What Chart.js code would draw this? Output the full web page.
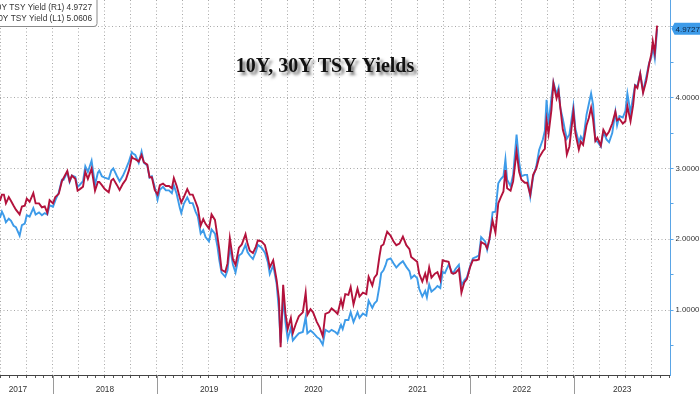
<!DOCTYPE html>
<html>
<head>
<meta charset="utf-8">
<title>10Y, 30Y TSY Yields</title>
<script src="https://cdn.jsdelivr.net/npm/chart.js@4.4.0/dist/chart.umd.min.js"></script>
<style>
  html, body { margin: 0; padding: 0; background: #fff; overflow: hidden; }
  canvas { display: block; }
</style>
</head>
<body>
<canvas id="grafico" width="700" height="394"></canvas>
<script>
/* ==========================================================================
   1. DATOS
   ========================================================================== */
const titulo = '10Y, 30Y TSY Yields';

const fechas = [
  '2017-06-30','2017-07-07','2017-07-14','2017-07-21','2017-07-31','2017-08-08','2017-08-17','2017-08-25','2017-09-07','2017-09-15','2017-09-25','2017-10-02','2017-10-12','2017-10-25','2017-11-02','2017-11-14','2017-11-24','2017-12-04','2017-12-13','2017-12-21',
  '2018-01-02','2018-01-10','2018-01-22','2018-02-02','2018-02-08','2018-02-21','2018-03-01','2018-03-09','2018-03-21','2018-03-29','2018-04-06','2018-04-17','2018-04-25','2018-05-04','2018-05-17','2018-05-29','2018-06-08','2018-06-13','2018-06-22','2018-07-02','2018-07-16','2018-07-25','2018-08-01','2018-08-14','2018-08-23','2018-09-04','2018-09-14','2018-09-25','2018-10-05','2018-10-09','2018-10-17','2018-10-29','2018-11-08','2018-11-16','2018-11-28','2018-12-06','2018-12-14','2018-12-24',
  '2019-01-03','2019-01-11','2019-01-22','2019-02-01','2019-02-12','2019-02-22','2019-03-01','2019-03-11','2019-03-22','2019-03-27','2019-04-05','2019-04-17','2019-04-26','2019-05-06','2019-05-16','2019-05-24','2019-06-03','2019-06-12','2019-06-20','2019-07-02','2019-07-11','2019-07-23','2019-08-01','2019-08-07','2019-08-15','2019-08-28','2019-09-05','2019-09-13','2019-09-24','2019-10-03','2019-10-15','2019-10-25','2019-11-07','2019-11-14','2019-11-22','2019-12-03','2019-12-13','2019-12-20',
  '2020-01-02','2020-01-14','2020-01-24','2020-01-31','2020-02-12','2020-02-24','2020-03-03','2020-03-09','2020-03-18','2020-03-26','2020-04-03','2020-04-14','2020-04-21','2020-05-01','2020-05-12','2020-05-26','2020-06-05','2020-06-11','2020-06-22','2020-07-01','2020-07-14','2020-07-24','2020-08-04','2020-08-13','2020-08-26','2020-09-04','2020-09-17','2020-09-25','2020-10-07','2020-10-13','2020-10-22','2020-11-02','2020-11-10','2020-11-20','2020-12-04','2020-12-11','2020-12-23',
  '2021-01-04','2021-01-12','2021-01-25','2021-02-01','2021-02-10','2021-02-19','2021-02-25','2021-03-05','2021-03-12','2021-03-18','2021-03-30','2021-04-09','2021-04-19','2021-04-30','2021-05-12','2021-05-24','2021-06-04','2021-06-10','2021-06-21','2021-07-01','2021-07-08','2021-07-19','2021-07-29','2021-08-04','2021-08-12','2021-08-20','2021-09-01','2021-09-10','2021-09-20','2021-09-28','2021-10-06','2021-10-19','2021-10-29','2021-11-04','2021-11-12','2021-11-24','2021-12-03','2021-12-13','2021-12-22',
  '2022-01-03','2022-01-12','2022-01-24','2022-02-02','2022-02-10','2022-02-24','2022-03-03','2022-03-11','2022-03-22','2022-04-01','2022-04-11','2022-04-20','2022-04-29','2022-05-06','2022-05-12','2022-05-24','2022-06-02','2022-06-14','2022-06-23','2022-07-01','2022-07-13','2022-07-21','2022-08-01','2022-08-11','2022-08-22','2022-09-01','2022-09-14','2022-09-21','2022-09-27','2022-10-04','2022-10-14','2022-10-21','2022-11-01','2022-11-08','2022-11-14','2022-11-23','2022-12-01','2022-12-07','2022-12-16','2022-12-30',
  '2023-01-06','2023-01-18','2023-01-25','2023-02-02','2023-02-14','2023-02-22','2023-03-02','2023-03-09','2023-03-17','2023-03-24','2023-04-05','2023-04-14','2023-04-25','2023-05-04','2023-05-15','2023-05-26','2023-06-01','2023-06-09','2023-06-21','2023-06-30','2023-07-07','2023-07-18','2023-07-27','2023-08-03','2023-08-11','2023-08-21','2023-08-31','2023-09-11','2023-09-21','2023-09-29','2023-10-04','2023-10-11','2023-10-19'
];

// 10Y (eje derecho, R1)
const yield10 = [
  2.30,2.39,2.33,2.24,2.29,2.26,2.19,2.17,2.05,2.20,2.22,2.34,2.32,2.44,2.35,2.38,2.34,2.37,2.35,2.48,
  2.46,2.55,2.66,2.84,2.84,2.95,2.81,2.90,2.88,2.74,2.77,2.82,3.03,2.95,3.11,2.77,2.94,2.97,2.89,2.87,2.85,2.97,3.00,2.89,2.82,2.90,2.99,3.10,3.23,3.21,3.19,3.08,3.24,3.08,3.04,2.87,2.89,2.74,
  2.56,2.70,2.74,2.69,2.69,2.65,2.76,2.64,2.44,2.37,2.50,2.59,2.51,2.51,2.39,2.32,2.08,2.13,2.03,1.97,2.14,2.08,1.89,1.71,1.53,1.47,1.56,1.90,1.64,1.53,1.77,1.80,1.92,1.82,1.77,1.72,1.82,1.92,
  1.88,1.81,1.68,1.51,1.63,1.37,1.00,0.54,1.18,0.83,0.59,0.75,0.57,0.62,0.67,0.69,0.90,0.67,0.71,0.68,0.62,0.59,0.51,0.72,0.69,0.72,0.69,0.66,0.79,0.73,0.86,0.86,0.97,0.83,0.97,0.89,0.95,
  0.92,1.13,1.03,1.09,1.13,1.34,1.52,1.56,1.63,1.71,1.73,1.66,1.60,1.65,1.69,1.61,1.55,1.45,1.49,1.45,1.30,1.19,1.27,1.18,1.36,1.26,1.30,1.34,1.31,1.54,1.52,1.64,1.55,1.52,1.58,1.64,1.35,1.42,1.46,
  1.63,1.73,1.75,1.77,2.03,1.97,1.85,1.99,2.38,2.39,2.79,2.85,2.89,3.13,2.84,2.75,2.91,3.48,3.09,2.89,2.91,2.91,2.60,2.88,3.03,3.26,3.41,3.53,3.97,3.62,4.00,4.22,4.05,4.14,3.86,3.70,3.53,3.42,3.48,3.88,
  3.56,3.37,3.45,3.39,3.76,3.91,4.06,3.90,3.39,3.38,3.31,3.52,3.41,3.37,3.50,3.80,3.61,3.74,3.72,3.81,4.06,3.79,4.01,4.18,4.16,4.34,4.09,4.29,4.49,4.57,4.73,4.56,4.9727
];

// 30Y (eje izquierdo oculto, L1)
const yield30 = [
  2.84,2.92,2.92,2.81,2.89,2.84,2.78,2.73,2.67,2.77,2.78,2.87,2.83,2.94,2.81,2.81,2.76,2.77,2.69,2.85,
  2.81,2.89,2.93,3.09,3.13,3.22,3.09,3.16,3.12,2.97,2.99,3.02,3.21,3.12,3.25,2.97,3.08,3.08,3.04,2.99,2.95,3.10,3.12,3.04,2.98,3.06,3.11,3.23,3.40,3.38,3.37,3.34,3.42,3.33,3.30,3.14,3.14,2.98,
  2.92,3.04,3.06,3.03,3.03,3.00,3.13,3.03,2.88,2.82,2.89,2.99,2.92,2.92,2.83,2.75,2.53,2.61,2.55,2.49,2.67,2.60,2.38,2.23,1.97,1.94,2.05,2.37,2.10,2.03,2.25,2.29,2.42,2.30,2.21,2.18,2.26,2.34,
  2.33,2.28,2.13,2.00,2.09,1.84,1.60,0.99,1.78,1.42,1.22,1.36,1.17,1.28,1.38,1.43,1.68,1.40,1.47,1.43,1.31,1.24,1.13,1.41,1.43,1.48,1.44,1.41,1.59,1.50,1.66,1.65,1.75,1.53,1.73,1.63,1.68,
  1.66,1.88,1.77,1.87,1.91,2.14,2.27,2.29,2.38,2.45,2.40,2.33,2.28,2.30,2.39,2.28,2.23,2.13,2.10,2.07,1.92,1.82,1.92,1.83,2.00,1.87,1.92,1.94,1.84,2.09,2.08,2.07,1.93,1.92,1.93,1.98,1.68,1.81,1.85,
  2.01,2.09,2.09,2.10,2.32,2.29,2.24,2.36,2.59,2.44,2.81,2.89,2.96,3.23,3.00,2.97,3.09,3.47,3.21,3.11,3.07,3.07,2.92,3.17,3.25,3.39,3.47,3.50,3.86,3.69,3.99,4.33,4.14,4.23,4.03,3.74,3.64,3.43,3.53,3.97,
  3.70,3.49,3.59,3.55,3.80,3.89,4.02,3.87,3.60,3.64,3.54,3.74,3.67,3.72,3.82,3.97,3.86,3.88,3.82,3.85,4.04,3.85,4.05,4.30,4.27,4.45,4.21,4.36,4.57,4.70,4.86,4.71,5.0606
];

const anios = ['2017', '2018', '2019', '2020', '2021', '2022', '2023'];
const marcasDerecha = [0.5, 1, 1.5, 2, 2.5, 3, 3.5, 4, 4.5, 5];
const ultimo10 = 4.9727;
const ultimo30 = 5.0606;

const colorAzul = '#3d9be9';
const colorRojo = '#b3123c';
const colorGrilla = '#a8a8a8';

/* ==========================================================================
   2. UTILIDADES
   ========================================================================== */
function aDecimal(fecha) {
    const [a, m, d] = fecha.split('-').map(Number);
    const ini = Date.UTC(a, 0, 1);
    const fin = Date.UTC(a + 1, 0, 1);
    return a + (Date.UTC(a, m - 1, d) - ini) / (fin - ini);
}

const X_MIN = 2017.494;
const X_MAX = 2023.926;
let marcasX = []; // tipo de cada tick del eje x

/* ==========================================================================
   3. PLUGIN DE DECORACIÓN (título, leyenda, separadores, último valor)
   ========================================================================== */
const decoracion = {
    id: 'decoracion',
    beforeDraw(chart) {
        const ctx = chart.ctx;
        ctx.save();
        ctx.fillStyle = '#fff';
        ctx.fillRect(0, 0, chart.width, chart.height);
        ctx.restore();
    },
    afterDraw(chart) {
        const ctx = chart.ctx;
        const area = chart.chartArea;
        const x = chart.scales.x;
        const yR = chart.scales.yR;

        // Separadores de año bajo el eje
        ctx.save();
        ctx.strokeStyle = '#9a9a9a';
        ctx.lineWidth = 1;
        anios.forEach(a => {
            const v = Number(a);
            if (v < X_MIN || v > X_MAX) return;
            const px = Math.round(x.getPixelForValue(v)) + 0.5;
            ctx.beginPath();
            ctx.moveTo(px, area.bottom);
            ctx.lineTo(px, chart.height);
            ctx.stroke();
        });
        ctx.restore();

        // Etiqueta del último valor (10Y)
        const py = yR.getPixelForValue(ultimo10);
        ctx.save();
        ctx.fillStyle = colorAzul;
        ctx.beginPath();
        ctx.moveTo(area.right + 1, py);
        ctx.lineTo(area.right + 4, py - 6);
        ctx.lineTo(700, py - 6);
        ctx.lineTo(700, py + 6);
        ctx.lineTo(area.right + 4, py + 6);
        ctx.closePath();
        ctx.fill();
        ctx.fillStyle = '#0d2440';
        ctx.font = '8px "Liberation Sans"';
        ctx.textAlign = 'left';
        ctx.textBaseline = 'middle';
        ctx.fillText(ultimo10.toFixed(4), area.right + 5, py + 0.5);
        ctx.restore();

        // Leyenda (recortada a la izquierda como en el original)
        ctx.save();
        ctx.fillStyle = '#fff';
        ctx.strokeStyle = '#8a8a8a';
        ctx.lineWidth = 1;
        ctx.beginPath();
        ctx.roundRect(-10.5, -5.5, 107.5, 32, 3);
        ctx.fill();
        ctx.stroke();
        ctx.fillStyle = '#333';
        ctx.font = '8.3px "Liberation Sans"';
        ctx.textAlign = 'right';
        ctx.textBaseline = 'middle';
        ctx.fillText('10Y TSY Yield (R1) ' + ultimo10.toFixed(4), 92, 7.5);
        ctx.fillText('30Y TSY Yield (L1) ' + ultimo30.toFixed(4), 92, 18.5);
        ctx.restore();

        // Título con sombra
        ctx.save();
        ctx.font = 'bold 20px "Liberation Serif"';
        ctx.textAlign = 'center';
        ctx.textBaseline = 'alphabetic';
        ctx.shadowColor = 'rgba(0, 0, 0, 0.55)';
        ctx.shadowOffsetX = 3;
        ctx.shadowOffsetY = 3;
        ctx.shadowBlur = 3;
        ctx.fillStyle = '#111';
        ctx.fillText(titulo, 325, 72);
        ctx.restore();
    }
};

/* ==========================================================================
   4. GRÁFICO
   ========================================================================== */
const xs = fechas.map(aDecimal);

new Chart(document.getElementById('grafico'), {
    type: 'line',
    data: {
        datasets: [
            {
                label: '30Y TSY Yield (L1)',
                data: xs.map((v, i) => ({ x: v, y: yield30[i] })),
                yAxisID: 'yL',
                borderColor: colorRojo,
                borderWidth: 1.9,
                pointRadius: 0,
                tension: 0
            },
            {
                label: '10Y TSY Yield (R1)',
                data: xs.map((v, i) => ({ x: v, y: yield10[i] })),
                yAxisID: 'yR',
                borderColor: colorAzul,
                borderWidth: 1.9,
                pointRadius: 0,
                tension: 0
            }
        ]
    },
    options: {
        responsive: false,
        animation: false,
        layout: { padding: 0 },
        plugins: {
            legend: { display: false },
            tooltip: { enabled: false }
        },
        scales: {
            x: {
                type: 'linear',
                min: X_MIN,
                max: X_MAX,
                afterBuildTicks: (scale) => {
                    const lista = [];
                    for (let a = 2017; a <= 2023; a++) {
                        for (let m = 1; m <= 12; m++) {
                            const v = aDecimal(`${a}-${String(m).padStart(2, '0')}-01`);
                            if (v >= X_MIN && v <= X_MAX) {
                                lista.push({ value: v, tipo: 'mes', trimestre: (m - 1) % 3 === 0, label: '' });
                            }
                        }
                    }
                    anios.forEach(a => {
                        const ini = Math.max(Number(a), X_MIN);
                        const fin = Math.min(Number(a) + 1, X_MAX);
                        const centro = a === '2017' ? ini + (fin - ini) * 0.34 : (ini + fin) / 2;
                        lista.push({ value: centro, tipo: 'anio', trimestre: false, label: a });
                    });
                    lista.sort((p, q) => p.value - q.value);
                    marcasX = lista;
                    scale.ticks = lista.map(t => ({ value: t.value }));
                },
                afterFit: (scale) => {
                    scale.height = 19;
                    scale.paddingLeft = 0;
                    scale.paddingRight = 0;
                },
                grid: {
                    color: (c) => (marcasX[c.index] && marcasX[c.index].trimestre) ? colorGrilla : 'rgba(0,0,0,0)',
                    tickColor: (c) => (marcasX[c.index] && marcasX[c.index].tipo === 'mes') ? '#555' : 'rgba(0,0,0,0)',
                    tickLength: 3,
                    lineWidth: 1
                },
                border: { color: '#444', width: 1, dash: [1, 2.5] },
                ticks: {
                    autoSkip: false,
                    maxRotation: 0,
                    padding: 7,
                    color: '#333',
                    font: { family: 'Liberation Sans', size: 8.3 },
                    callback: (v, i) => (marcasX[i] ? marcasX[i].label : '')
                }
            },
            yR: {
                type: 'linear',
                position: 'right',
                min: 0.082,
                max: 5.380,
                afterBuildTicks: (scale) => {
                    scale.ticks = marcasDerecha.map(v => ({ value: v }));
                },
                afterFit: (scale) => {
                    scale.width = 29.5;
                    scale.paddingTop = 0;
                    scale.paddingBottom = 0;
                },
                grid: {
                    color: (c) => (c.tick && Number.isInteger(c.tick.value)) ? colorGrilla : 'rgba(0,0,0,0)',
                    tickColor: '#5aa5e6',
                    tickLength: 3,
                    lineWidth: 1
                },
                border: { color: '#5aa5e6', width: 1, dash: [1, 2.5] },
                ticks: {
                    padding: 2,
                    color: '#333',
                    font: { family: 'Liberation Sans', size: 7.8 },
                    callback: (v) => (Number.isInteger(v) && v < 5 ? v.toFixed(4) : '')
                }
            },
            yL: {
                type: 'linear',
                display: false,
                min: 0.637,
                max: 5.384
            }
        }
    },
    plugins: [decoracion]
});
</script>
</body>
</html>
